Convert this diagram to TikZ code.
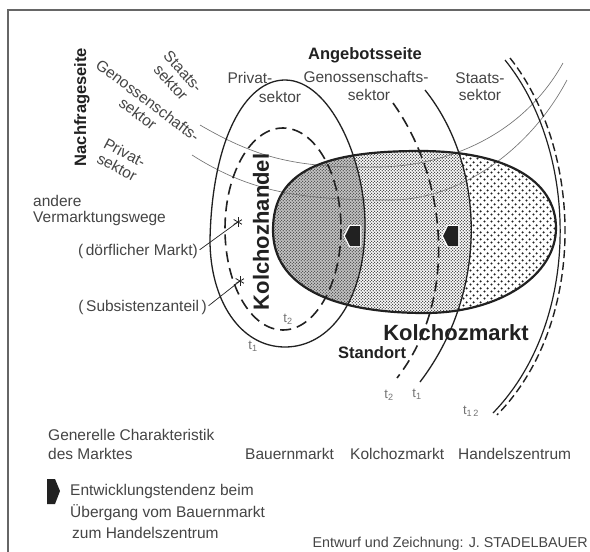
\documentclass[tikz,border=0pt]{standalone}
\usepackage{fontspec}
\setmainfont{Liberation Sans}
\usetikzlibrary{patterns}
\pgfdeclarepatternformonly{finedots}{\pgfqpoint{0pt}{0pt}}{\pgfqpoint{3.4pt}{3.4pt}}{\pgfqpoint{3.4pt}{3.4pt}}{%
 \pgfpathcircle{\pgfqpoint{0.85pt}{0.85pt}}{0.85pt}%
 \pgfpathcircle{\pgfqpoint{2.55pt}{2.55pt}}{0.85pt}%
 \pgfusepath{fill}}
\pgfdeclarepatternformonly{coarsedots}{\pgfqpoint{0pt}{0pt}}{\pgfqpoint{7pt}{7pt}}{\pgfqpoint{7pt}{7pt}}{%
 \pgfpathcircle{\pgfqpoint{1.75pt}{1.75pt}}{1.3pt}%
 \pgfpathcircle{\pgfqpoint{5.25pt}{5.25pt}}{1.3pt}%
 \pgfusepath{fill}}
\definecolor{ink}{gray}{0.13}
\definecolor{txt}{gray}{0.27}
\def\kolchozpath{(273,230) .. controls (273,170) and (325,151) .. (420,151) .. controls (505,151) and (556,180) .. (556,228) .. controls (556,275) and (500,313) .. (425,313) .. controls (330,313) and (273,285) .. (273,230) -- cycle}
\def\privatpath{(285,80) .. controls (330,80) and (365,160) .. (365,225) .. controls (365,300) and (330,347) .. (285,347) .. controls (240,347) and (210,300) .. (210,240) .. controls (212,140) and (245,80) .. (285,80) -- cycle}
\def\staatsregion{(425,90) .. controls (485,165) and (490,290) .. (420,382) -- (600,382) -- (600,90) -- cycle}
\begin{document}
\begin{tikzpicture}[x=1pt,y=-1pt,
  lbl/.style={inner sep=0pt, text=txt, font=\fontsize{15.5}{16.5}\selectfont},
  blbl/.style={inner sep=0pt, text=ink, font=\fontsize{16.5}{18}\selectfont\bfseries},
  biglbl/.style={inner sep=0pt, text=ink, font=\fontsize{22}{24}\selectfont\bfseries},
  tlbl/.style={inner sep=0pt, text=black!55, font=\fontsize{13}{13}\selectfont},
  nf/.style={draw=black!55, line width=0.65pt},
  solidc/.style={draw=ink, line width=1.3pt},
  dashc/.style={draw=ink, line width=1.6pt, dash pattern=on 11pt off 6pt},
  framec/.style={draw=black!60, line width=1.8pt},
  ast/.style={circle, minimum size=11pt, inner sep=0pt, path picture={
    \foreach \a in {90,30,150}{\draw[ink,line width=0.8pt] ([shift={(\a:5pt)}]path picture bounding box.center) -- ([shift={(\a+180:5pt)}]path picture bounding box.center);}}},
  larrow/.pic={\draw[white,line width=2.5pt,line join=round] (-8,0) -- (-3,-10) -- (7,-10) -- (7,10) -- (-3,10) -- cycle;
               \fill[ink] (-8,0) -- (-3,-10) -- (7,-10) -- (7,10) -- (-3,10) -- cycle;}
]
\useasboundingbox (0,0) rectangle (590,552);
\fill[white] (0,0) rectangle (590,552);
% frame
\draw[framec] (8,552) -- (8,10) -- (590,10);

% shaded regions of the Kolchozmarkt
\begin{scope}
  \clip \kolchozpath;
  \fill[pattern=finedots, pattern color=black!78] (260,140) rectangle (570,320);
  \begin{scope}
    \clip \staatsregion;
    \fill[white] (260,140) rectangle (570,320);
    \fill[pattern=coarsedots, pattern color=ink] (260,140) rectangle (570,320);
  \end{scope}
  \begin{scope}
    \clip \privatpath;
    \fill[black!22] (260,140) rectangle (570,320);
    \fill[pattern=finedots, pattern color=black!72] (260,140) rectangle (570,320);
  \end{scope}
\end{scope}

% Nachfrageseite curves
\draw[nf] (200,125) .. controls (260,160) and (300,168) .. (380,167) .. controls (440,166) and (520,140) .. (563,63);
\draw[nf] (192,155) .. controls (250,192) and (300,200) .. (390,200) .. controls (460,200) and (530,150) .. (567,80);

% Kolchozmarkt outline
\draw[draw=ink, line width=2.2pt] \kolchozpath;

% Angebotsseite curves
\draw[solidc] \privatpath;
\draw[dashc] (283,229) ellipse [x radius=58, y radius=101];
\draw[dashc] (393,103) .. controls (448,180) and (458,300) .. (397,378);
\draw[solidc] (425,90) .. controls (485,165) and (490,290) .. (420,382);
\draw[draw=ink, line width=1.2pt] (505,60) .. controls (578,150) and (583,320) .. (493,413);
\draw[draw=ink, line width=1.4pt, dash pattern=on 8pt off 4pt] (510,58) .. controls (583,150) and (588,322) .. (497,415);

% development arrows
\pic at (353,236) {larrow};
\pic at (451,236) {larrow};

% asterisks and their labels
\node[ast] (a1) at (238,222) {};
\node[ast] (a2) at (240,281) {};
\node[lbl, anchor=base east] (dm) at (198,255) {(\,dörflicher Markt)};
\node[lbl, anchor=base east] (sa) at (207,311) {(\,Subsistenzanteil\,)};
\draw[ink, line width=0.7pt, shorten <=2pt] (dm.east) -- (a1.center);
\draw[ink, line width=0.7pt, shorten <=2pt] (sa.east) -- (a2.center);

% Angebotsseite labels
\node[blbl, anchor=base] (ang) at (365,59) {Angebotsseite};
\node[lbl, anchor=base] (ap1) at (250,83) {Privat-};
\node[lbl, anchor=base] (ap2) at (280,102) {sektor};
\node[lbl, anchor=base] (ag1) at (366,82) {Genossenschafts-};
\node[lbl, anchor=base] (ag2) at (369,100) {sektor};
\node[lbl, anchor=base] (as1) at (480,83) {Staats-};
\node[lbl, anchor=base] (as2) at (480,100) {sektor};

% Nachfrageseite labels
\node[blbl, rotate=90] (nfs) at (82,107) {Nachfrageseite};
\node[lbl, rotate=-48, align=center] (ns) at (177,77) {Staats-\\sektor};
\node[lbl, rotate=-37, align=center] (ng) at (143,107) {Genossenschafts-\\sektor};
\node[lbl, rotate=-28, align=center] (np) at (121,160) {Privat-\\sektor};
\node[lbl, anchor=base west] (aw1) at (33,206) {andere};
\node[lbl, anchor=base west] (aw2) at (33,222) {Vermarktungswege};

% big labels
\node[biglbl, rotate=90] (kzh) at (261,232) {Kolchozhandel};
\node[biglbl, anchor=base] (kzm) at (456,340) {Kolchozmarkt};
\node[blbl, anchor=base west] (st) at (338,358) {Standort};

% time labels
\node[tlbl] (t1a) at (253,346) {t\textsubscript{1}};
\node[tlbl] (t2a) at (288,319) {t\textsubscript{2}};
\node[tlbl] (t2b) at (389,395) {t\textsubscript{2}};
\node[tlbl] (t1b) at (417,394) {t\textsubscript{1}};
\node[tlbl] (t12) at (471,411) {t\textsubscript{1\,2}};

% bottom row
\node[lbl, anchor=base west] (gc1) at (48,440) {Generelle Charakteristik};
\node[lbl, anchor=base west] (gc2) at (48,459) {des Marktes};
\node[lbl, anchor=base west] (bm) at (245,459) {Bauernmarkt};
\node[lbl, anchor=base west] (km) at (350,459) {Kolchozmarkt};
\node[lbl, anchor=base west] (hz) at (458,459) {Handelszentrum};

% legend
\fill[ink] (47,479) -- (55,479) -- (60,491) -- (55,504) -- (47,504) -- cycle;
\node[lbl, anchor=base west] (lg1) at (70,495) {Entwicklungstendenz beim};
\node[lbl, anchor=base west] (lg2) at (70,517) {Übergang vom Bauernmarkt};
\node[lbl, anchor=base west] (lg3) at (72,538) {zum Handelszentrum};
\node[lbl, anchor=base east, font=\fontsize{14.3}{15}\selectfont] (cr) at (588,547) {Entwurf und Zeichnung: J. STADELBAUER};
\end{tikzpicture}
\end{document}
